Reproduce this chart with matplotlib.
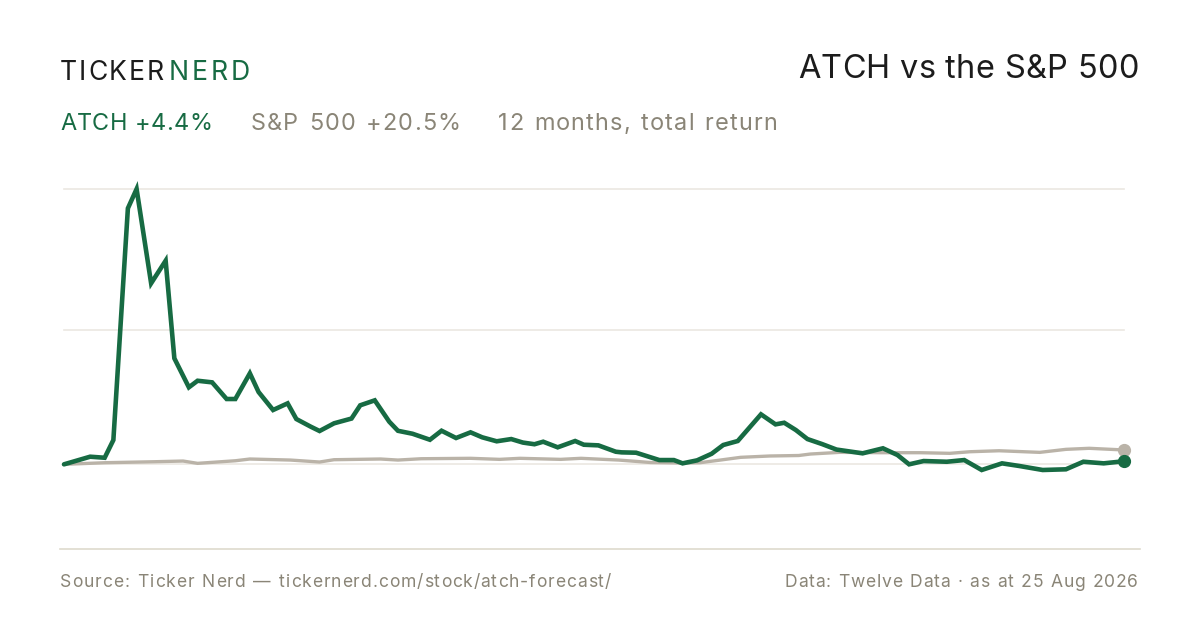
import matplotlib
matplotlib.use("Agg")
import matplotlib.pyplot as plt
from matplotlib.lines import Line2D
from matplotlib.font_manager import FontProperties

# ---------------- data ----------------
ATCH_DAYS = [0, 9, 14, 17, 22, 25, 30, 35, 38, 43, 46, 51, 56, 59, 64, 67, 72, 77, 80,
             85, 88, 93, 99, 102, 107, 112, 115, 120, 126, 130, 135, 140, 144, 149, 154,
             158, 162, 165, 170, 176, 179, 184, 190, 192, 197, 205, 210, 213, 218, 223,
             227, 232, 240, 245, 248, 252, 256, 261, 266, 275, 282, 287, 291, 296, 304,
             310, 316, 323, 329, 337, 345, 351, 358, 365]
ATCH_RET = [0, 10.9, 9.4, 34.7, 365.7, 393.3, 258.6, 290.9, 151.4, 110.0, 119.4, 117.1,
            93.3, 93.3, 130.0, 103.3, 77.6, 87.1, 64.7, 53.7, 47.6, 58.6, 65.4, 84.3,
            91.4, 60.9, 47.9, 43.7, 35.1, 48.0, 37.6, 45.7, 38.6, 32.9, 36.1, 31.1, 28.7,
            32.3, 24.3, 33.3, 28.0, 27.1, 18.0, 17.1, 16.6, 6.1, 6.1, 1.4, 5.7, 15.1,
            27.6, 33.3, 71.4, 57.1, 59.4, 49.0, 36.1, 29.0, 21.1, 15.7, 22.9, 13.3, 0.0,
            4.7, 3.7, 6.1, -8.1, 1.4, -2.4, -8.1, -7.1, 3.7, 1.4, 4.4]

SPX_DAYS = [0, 14, 31, 41, 46, 59, 64, 78, 88, 93, 109, 115, 123, 140, 150, 157, 171,
            178, 191, 202, 213, 219, 226, 233, 243, 253, 257, 267, 281, 295, 305, 312,
            322, 336, 345, 353, 365]
SPX_RET = [0, 2.3, 3.7, 4.7, 1.4, 5.1, 7.6, 6.1, 3.3, 6.6, 7.6, 6.1, 8.0, 8.6, 7.1, 8.6,
           7.1, 8.6, 6.1, 2.6, 1.9, 2.3, 6.1, 10.0, 11.9, 12.6, 14.7, 17.1, 16.6, 16.6,
           15.7, 18.0, 19.4, 17.1, 21.4, 22.9, 20.5]

BRAND_A = "TICKER"
BRAND_B = "NERD"
TITLE = "ATCH vs the S&P 500"
SUB_ATCH = "ATCH +4.4%"
SUB_SPX = "S&P 500 +20.5%"
SUB_NOTE = "12 months, total return"
SOURCE = "Source: Ticker Nerd \u2014 tickernerd.com/stock/atch-forecast/"
DATA_NOTE = "Data: Twelve Data \u00b7 as at 25 Aug 2026"

# ---------------- style ----------------
GREEN = "#176b43"
GREY_LINE = "#bab3a8"
GREY_TEXT = "#8a8577"
DARK = "#1c1c1c"
GRID = "#ebe8e2"
RULE = "#dedacd"
FONT = "Inter"

W, H = 1200, 630
fig = plt.figure(figsize=(W / 100, H / 100), dpi=100)
fig.patch.set_facecolor("white")


def fx(x):
    return x / W


def fy(y):
    return 1 - y / H


def pt(px):
    return px * 72 / 100


# axes: x 64..1124 px, y domain top 189 px, bottom 470 px
ymin, ymax = min(ATCH_RET), max(ATCH_RET)
ax = fig.add_axes([fx(64), fy(470), fx(1124) - fx(64), (470 - 189) / H])
ax.set_xlim(0, 365)
ax.set_ylim(ymin, ymax)
ax.axis("off")

for g in [ymax, (ymin + ymax) / 2, 0]:
    ax.axhline(g, color=GRID, lw=1.2, zorder=1, clip_on=False)

ax.plot(SPX_DAYS, SPX_RET, color=GREY_LINE, lw=2.4, zorder=2, clip_on=False,
        solid_joinstyle="round", solid_capstyle="round")
ax.plot(ATCH_DAYS, ATCH_RET, color=GREEN, lw=3.3, zorder=3, clip_on=False,
        solid_joinstyle="miter", solid_capstyle="round")
ax.plot([SPX_DAYS[-1]], [SPX_RET[-1]], "o", color=GREY_LINE, ms=8.5, zorder=4, clip_on=False)
ax.plot([ATCH_DAYS[-1]], [ATCH_RET[-1]], "o", color=GREEN, ms=8.5, zorder=5, clip_on=False)

# bottom rule
fig.add_artist(Line2D([fx(60), fx(1140)], [fy(548.5), fy(548.5)], color=RULE, lw=1.2))

renderer = fig.canvas.get_renderer()


def fit_text(x0, x1, y, s, color, size_px, space_weight=1.8):
    """Draw s between pixel x0 and x1, spreading extra room over gaps (more at spaces)."""
    fp = FontProperties(family=FONT, size=pt(size_px))
    widths = []
    for ch in s:
        w, _, _ = renderer.get_text_width_height_descent(ch, fp, ismath=False)
        widths.append(w)
    natural = sum(widths)
    gaps = []
    for i in range(len(s) - 1):
        gaps.append(space_weight if (s[i] == " " or s[i + 1] == " ") else 1.0)
    unit = (x1 - x0 - natural) / max(sum(gaps), 1)
    cx = x0
    for i, (ch, w) in enumerate(zip(s, widths)):
        if ch != " ":
            fig.text(fx(cx), fy(y), ch, color=color, fontproperties=fp,
                     va="baseline", ha="left")
        cx += w + (gaps[i] * unit if i < len(gaps) else 0)


# brand
fit_text(60, 163.5, 80, BRAND_A, DARK, 26.5)
fit_text(169, 249.5, 80, BRAND_B, GREEN, 26.5)

# title
fit_text(798, 1138, 78.5, TITLE, DARK, 32.5)

# subtitle
fit_text(60, 212, 130.5, SUB_ATCH, GREEN, 23.5)
fit_text(251, 460, 130.5, SUB_SPX, GREY_TEXT, 23.5)
fit_text(498, 777, 130.5, SUB_NOTE, GREY_TEXT, 23.5)

# footer
fit_text(60, 611, 586.7, SOURCE, GREY_TEXT, 17.5)
fit_text(785, 1138, 586.7, DATA_NOTE, GREY_TEXT, 17.5)

fig.savefig("out.png", dpi=100, facecolor="white")
